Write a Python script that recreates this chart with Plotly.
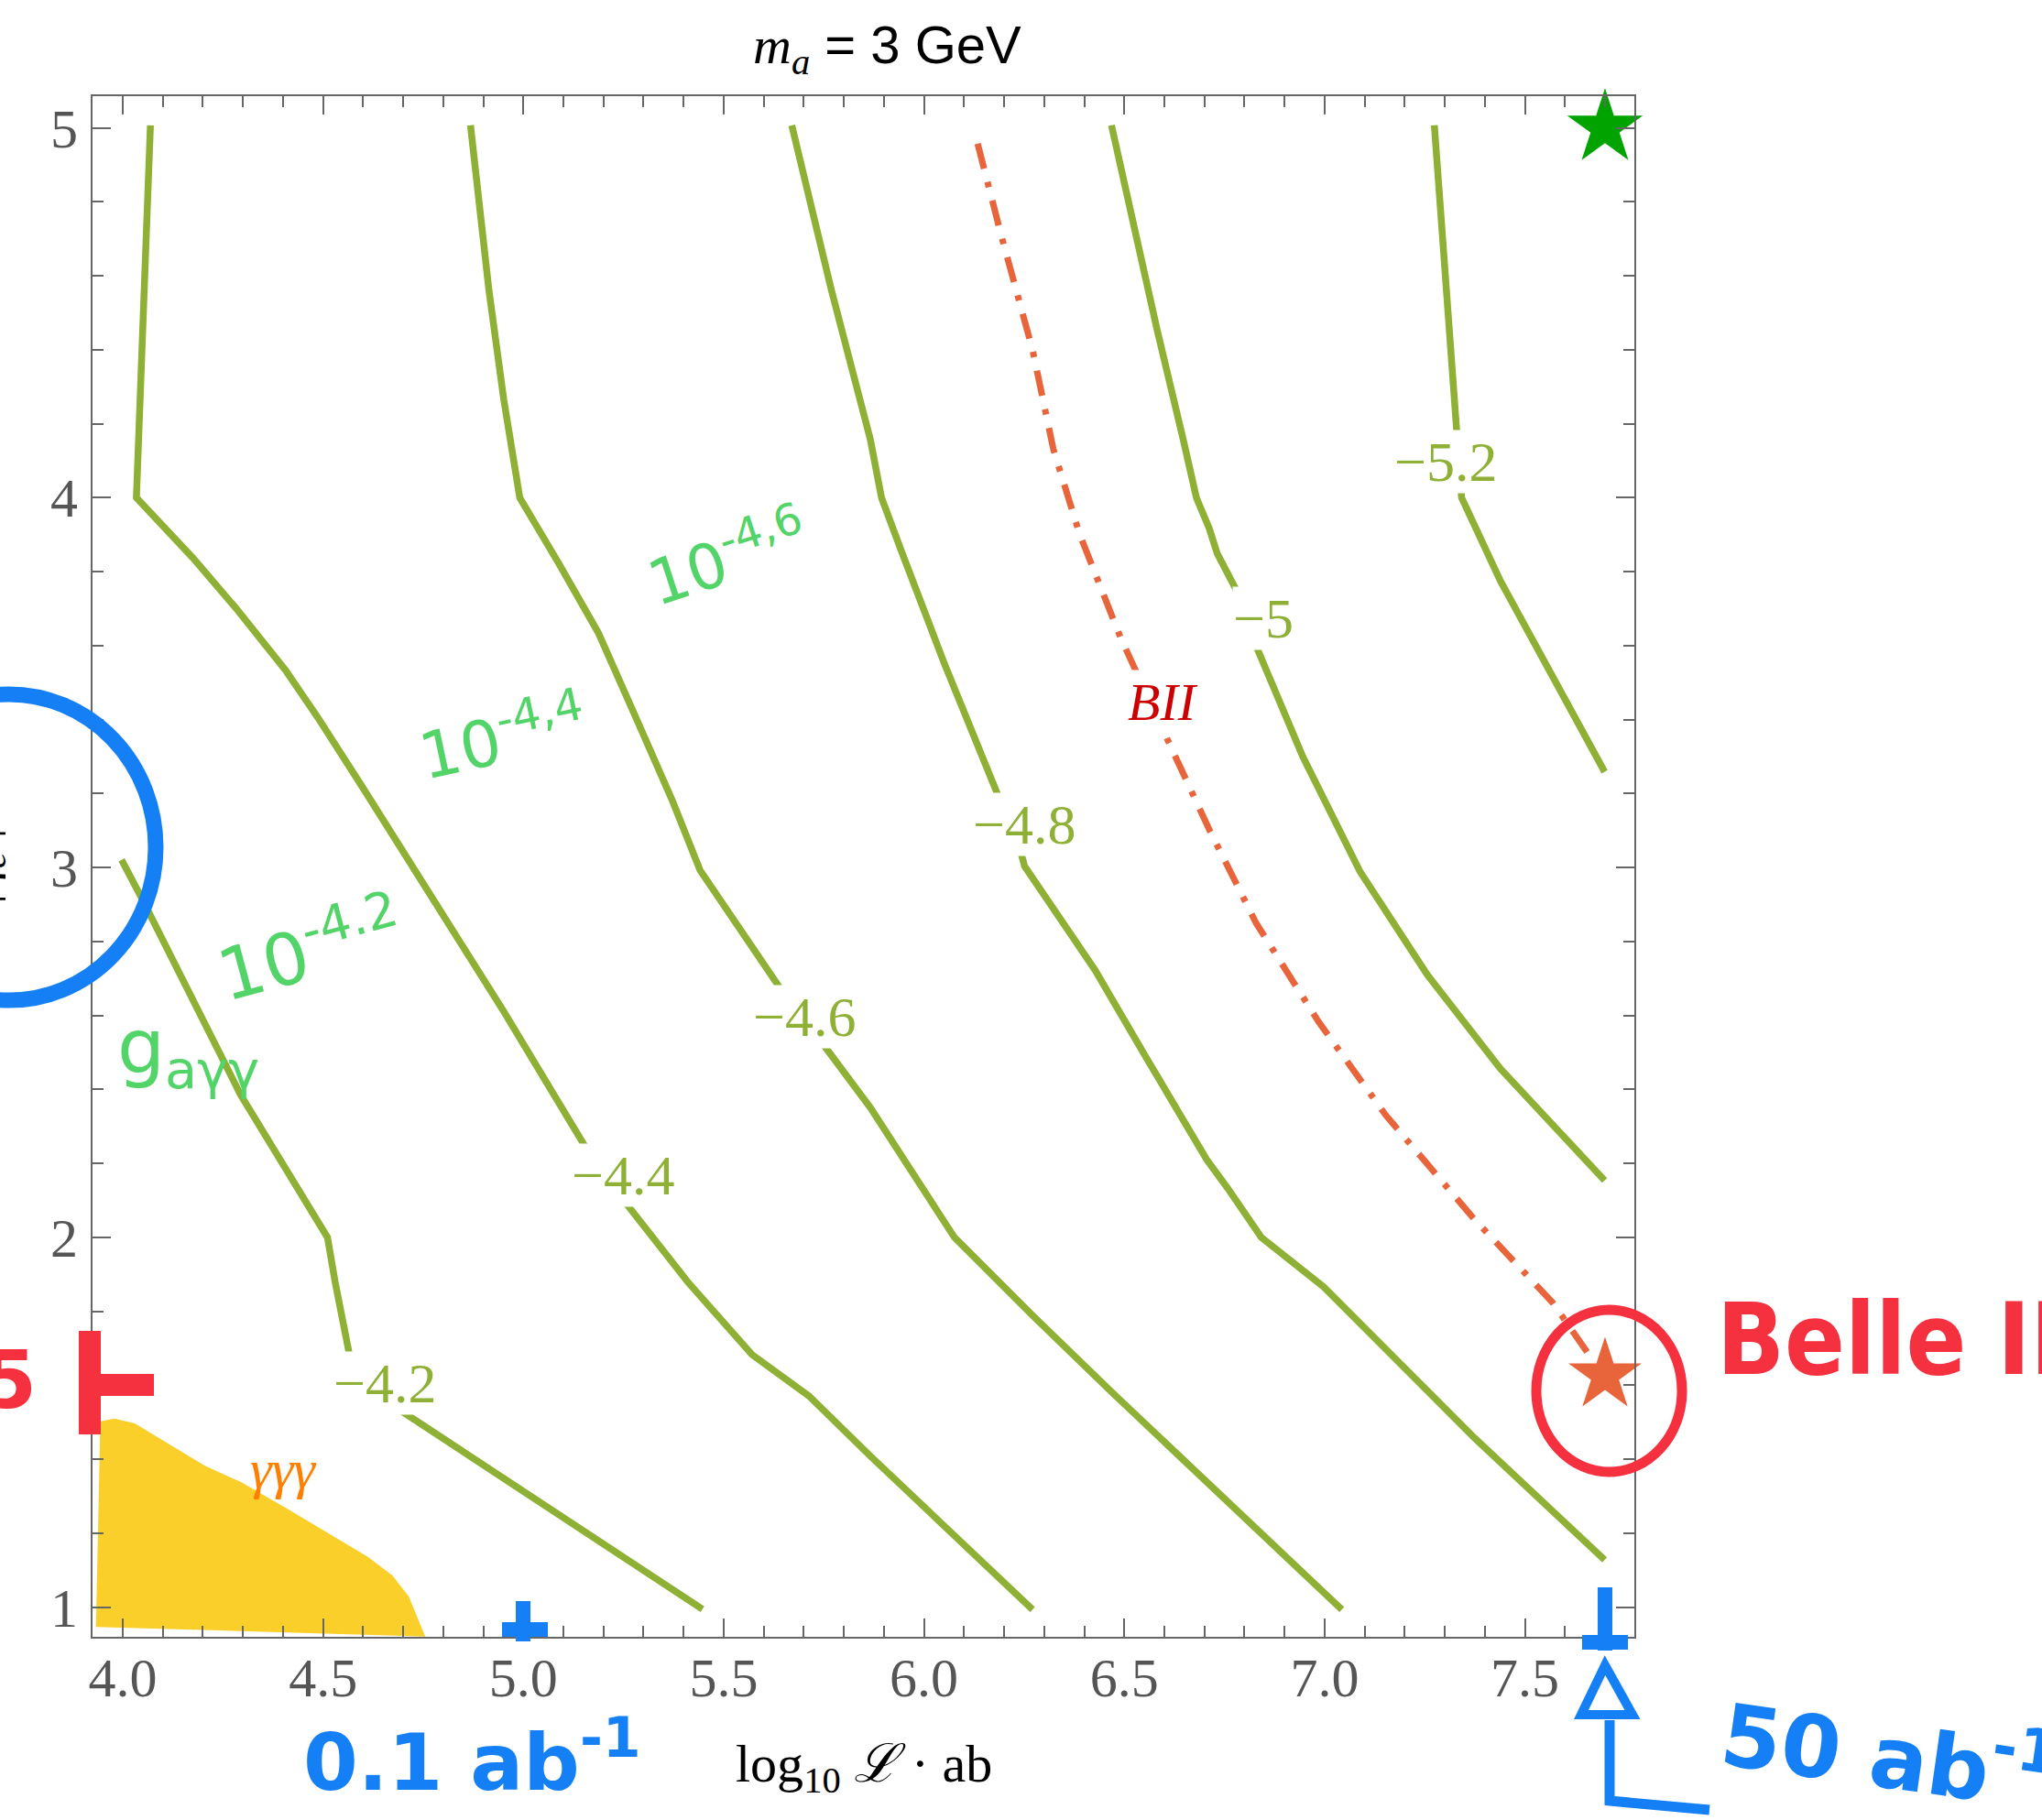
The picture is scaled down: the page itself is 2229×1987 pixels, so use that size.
import plotly.graph_objects as go

# ---------------- data ----------------
c42_x = [3.997, 4.046, 4.294, 4.511, 4.530, 4.567, 4.620, 4.678, 5.447]
c42_y = [3.021, 2.920, 2.386, 2.000, 1.880, 1.676, 1.600, 1.543, 0.995]

c44_x = [4.069, 4.034, 4.176, 4.282, 4.406, 4.486, 4.598, 4.728, 4.790, 4.951, 5.150, 5.242, 5.410, 5.571, 5.713, 5.866, 6.271]
c44_y = [5.007, 4.000, 3.836, 3.702, 3.534, 3.407, 3.218, 2.993, 2.885, 2.611, 2.253, 2.112, 1.880, 1.683, 1.571, 1.409, 0.994]

c46_x = [4.868, 4.914, 4.951, 4.991, 5.088, 5.187, 5.286, 5.373, 5.441, 5.645, 5.745, 5.866, 6.076, 6.271, 6.479, 6.712, 7.043]
c46_y = [5.007, 4.561, 4.266, 4.000, 3.823, 3.635, 3.393, 3.178, 2.993, 2.667, 2.527, 2.351, 2.000, 1.789, 1.571, 1.332, 0.994]

c48_x = [5.670, 5.769, 5.866, 5.894, 5.946, 6.050, 6.186, 6.238, 6.251, 6.427, 6.556, 6.706, 6.758, 6.842, 6.998, 7.166, 7.374, 7.699]
c48_y = [5.007, 4.561, 4.158, 4.000, 3.849, 3.554, 3.192, 3.057, 3.004, 2.723, 2.484, 2.210, 2.133, 2.000, 1.866, 1.683, 1.458, 1.128]

c50_x = [6.468, 6.531, 6.582, 6.647, 6.680, 6.712, 6.732, 6.777, 6.823, 6.946, 7.088, 7.257, 7.439, 7.699]
c50_y = [5.007, 4.695, 4.454, 4.158, 4.000, 3.917, 3.849, 3.756, 3.615, 3.299, 2.990, 2.709, 2.456, 2.154]

c52_x = [7.274, 7.303, 7.332, 7.342, 7.439, 7.569, 7.699]
c52_y = [5.007, 4.561, 4.158, 4.000, 3.775, 3.514, 3.259]

contour_x = [c42_x, c44_x, c46_x, c48_x, c50_x, c52_x]
contour_y = [c42_y, c44_y, c46_y, c48_y, c50_y, c52_y]
contour_levels = ["\u22124.2", "\u22124.4", "\u22124.6", "\u22124.8", "\u22125", "\u22125.2"]
label_x = [4.654, 5.249, 5.701, 6.251, 6.848, 7.303]
label_y = [1.606, 2.168, 2.597, 3.118, 3.675, 4.098]

bii_x = [6.134, 6.193, 6.271, 6.323, 6.388, 6.491, 6.622, 6.712, 6.829, 6.985, 7.153, 7.374, 7.569, 7.660]
bii_y = [4.957, 4.709, 4.400, 4.131, 3.903, 3.621, 3.313, 3.103, 2.850, 2.583, 2.330, 2.049, 1.824, 1.683]
bii_label = (6.596, 3.447)

ggg_x = [3.933, 3.944, 3.979, 4.030, 4.204, 4.294, 4.408, 4.612, 4.673, 4.714, 4.755, 3.933]
ggg_y = [0.947, 1.503, 1.510, 1.497, 1.383, 1.339, 1.268, 1.136, 1.086, 1.029, 0.921, 0.947]
ggg_label = (4.40, 1.374)

belle2_star = (7.70, 1.627)
future_star = (7.70, 5.00)

x_range = [3.9245, 7.7732]
y_range = [0.9201, 5.0857]

# ---------------- layout helpers (pixel -> paper) ----------------
W, H = 2229, 1987
L, R, T, B = 101, 1784, 105, 1787


def px(x):
    return (x - L) / (R - L)


def py(y):
    return (B - y) / (B - T)


OLIVE = "#8EB035"
GRAY = "#666666"
HGREEN = "#52D468"
HBLUE = "#1580F5"
HRED = "#F5303F"

fig = go.Figure()

fig.add_trace(go.Scatter(x=ggg_x, y=ggg_y, fill="toself", fillcolor="#FBCF2A",
                         line=dict(width=0, color="#FBCF2A"), mode="lines", hoverinfo="skip"))

for cx, cy in zip(contour_x, contour_y):
    fig.add_trace(go.Scatter(x=cx, y=cy, mode="lines", line=dict(color=OLIVE, width=7.5)))

fig.add_trace(go.Scatter(x=bii_x, y=bii_y, mode="lines",
                         line=dict(color="#E8643A", width=7, dash="28px,15px,6px,15px")))

fig.add_trace(go.Scatter(x=[belle2_star[0]], y=[belle2_star[1]], mode="markers", cliponaxis=False,
                         marker=dict(symbol="star", size=60, color="#E8643A", line=dict(width=0))))
fig.add_trace(go.Scatter(x=[future_star[0]], y=[future_star[1]], mode="markers", cliponaxis=False,
                         marker=dict(symbol="star", size=62, color="#00A300", line=dict(width=0))))

annotations = []
for lx, ly, lt in zip(label_x, label_y, contour_levels):
    annotations.append(dict(x=lx, y=ly, xref="x", yref="y", text=lt, showarrow=False,
                            xanchor="center", yanchor="middle",
                            font=dict(family="Liberation Serif", size=62, color=OLIVE),
                            bgcolor="white", borderpad=0))
annotations.append(dict(x=bii_label[0], y=bii_label[1], xref="x", yref="y", text="<i>BII</i>",
                        showarrow=False, bgcolor="white", borderpad=2, xanchor="center", yanchor="middle",
                        font=dict(family="Liberation Serif", size=58, color="#CC0000")))
annotations.append(dict(x=ggg_label[0], y=ggg_label[1], xref="x", yref="y", text="<i>γγγ</i>",
                        showarrow=False, xanchor="center", yanchor="middle",
                        font=dict(family="Liberation Serif", size=60, color="#FF8000")))

# title and axis titles
annotations.append(dict(x=px(968), y=py(53), xref="paper", yref="paper", showarrow=False,
                        xanchor="center", yanchor="middle",
                        text="<span style='font-family:Liberation Serif'><i>m</i><sub><i>a</i></sub></span> = 3 GeV",
                        font=dict(family="Liberation Sans", size=58, color="black")))
annotations.append(dict(x=px(943), y=py(1929), xref="paper", yref="paper", showarrow=False,
                        xanchor="center", yanchor="middle",
                        text="log<sub>10</sub> <i>ℒ</i> · ab",
                        font=dict(family="Liberation Serif", size=58, color="black")))
annotations.append(dict(x=px(16), y=py(946), xref="paper", yref="paper", showarrow=False,
                        xanchor="right", yanchor="middle", textangle=-90,
                        text="|<i>η</i><sub><i>e</i><sup>±</sup></sub>|",
                        font=dict(family="Liberation Serif", size=56, color="black")))

# handwritten notes
hand = [
    ("10<sup>-4.2</sup>", 338, 1035, -15, 78, HGREEN, "center", "DejaVu Sans"),
    ("10<sup>-4,4</sup>", 548, 803, -12, 70, HGREEN, "center", "DejaVu Sans"),
    ("10<sup>-4,6</sup>", 793, 607, -18, 68, HGREEN, "center", "DejaVu Sans"),
    ("g<sub>aγγ</sub>", 205, 1148, 0, 82, HGREEN, "center", "DejaVu Sans"),
    ("<b>Belle II</b>", 1872, 1462, 0, 108, HRED, "left", "DejaVu Sans Condensed, DejaVu Sans"),
    ("<b>5</b>", 42, 1506, 0, 88, HRED, "right", "DejaVu Sans"),
    ("<b>0.1 ab<sup>-1</sup></b>", 515, 1918, 0, 86, HBLUE, "center", "DejaVu Sans"),
    ("<b>50 ab<sup>-1</sup></b>", 2062, 1912, 8, 94, HBLUE, "center", "DejaVu Sans"),
]
for txt, hx, hy, ang, sz, col, anc, fam in hand:
    annotations.append(dict(x=px(hx), y=py(hy), xref="paper", yref="paper", showarrow=False,
                            text=txt, textangle=ang, xanchor=anc, yanchor="middle",
                            font=dict(family=fam, size=sz, color=col)))

shapes = []
# blue circle around the y title
shapes.append(dict(type="circle", xref="paper", yref="paper",
                   x0=px(-150), x1=px(170), y0=py(1092), y1=py(758),
                   line=dict(color=HBLUE, width=17)))
# red circle around Belle II star
shapes.append(dict(type="circle", xref="paper", yref="paper",
                   x0=px(1677), x1=px(1836), y0=py(1607), y1=py(1430),
                   line=dict(color=HRED, width=11)))
# red plus mark
for (xa, ya, xb, yb) in [(98, 1453, 98, 1566), (86, 1512, 168, 1512)]:
    shapes.append(dict(type="line", xref="paper", yref="paper", x0=px(xa), y0=py(ya), x1=px(xb), y1=py(yb),
                       line=dict(color=HRED, width=24)))
# blue tick marks at 0.1 and 50 ab^-1
for (xa, ya, xb, yb) in [(571, 1748, 571, 1792), (548, 1779, 598, 1779),
                         (1752, 1733, 1752, 1802), (1727, 1793, 1777, 1793)]:
    shapes.append(dict(type="line", xref="paper", yref="paper", x0=px(xa), y0=py(ya), x1=px(xb), y1=py(yb),
                       line=dict(color=HBLUE, width=16)))


def ppath(points, close=False):
    s = "M " + " L ".join(f"{px(a):.5f},{py(b):.5f}" for a, b in points)
    return s + (" Z" if close else "")


shapes.append(dict(type="path", xref="paper", yref="paper",
                   path=ppath([(1757, 1878), (1757, 1966), (1866, 1976)]),
                   line=dict(color=HBLUE, width=11)))
shapes.append(dict(type="path", xref="paper", yref="paper",
                   path=ppath([(1726, 1872), (1752, 1818), (1782, 1872)], close=True),
                   line=dict(color=HBLUE, width=10)))

axis_common = dict(showline=True, linecolor=GRAY, linewidth=2.2, mirror="allticks",
                   ticks="inside", ticklen=20, tickwidth=2, tickcolor=GRAY,
                   showgrid=False, zeroline=False,
                   tickfont=dict(family="Liberation Serif", size=60, color="#555555"))

fig.update_layout(
    width=W, height=H, autosize=False,
    margin=dict(l=L, r=W - R, t=T, b=H - B),
    paper_bgcolor="white", plot_bgcolor="white",
    showlegend=False,
    xaxis=dict(range=x_range, tick0=4.0, dtick=0.5, tickformat=".1f", ticklabelstandoff=-9,
               minor=dict(ticks="inside", dtick=0.1, ticklen=12, tickwidth=2, tickcolor=GRAY, showgrid=False),
               **axis_common),
    yaxis=dict(range=y_range, tick0=1, dtick=1, ticklabelstandoff=2,
               minor=dict(ticks="inside", dtick=0.2, ticklen=12, tickwidth=2, tickcolor=GRAY, showgrid=False),
               **axis_common),
    annotations=annotations,
    shapes=shapes,
)

fig.write_html("out.html", post_script="document.body.style.margin='0';",
               config={"displayModeBar": False})
